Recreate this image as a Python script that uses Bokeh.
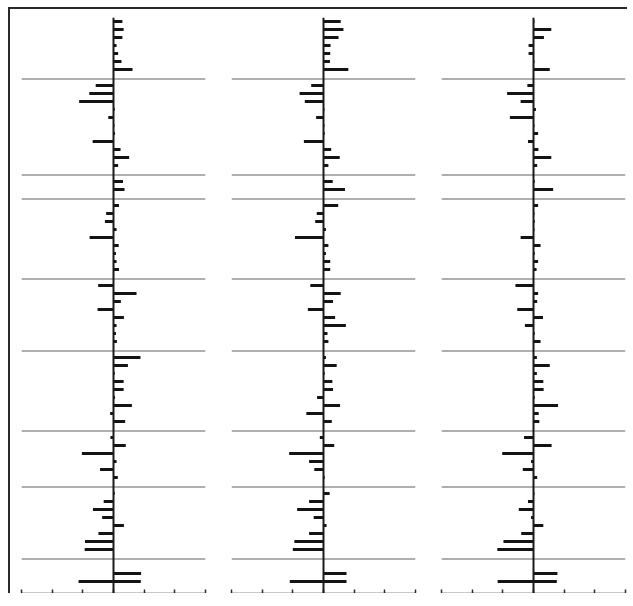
from bokeh.plotting import figure
from bokeh.layouts import row
from bokeh.models import Range1d, Span, LinearAxis, FixedTicker, ColumnDataSource
from bokeh.embed import file_html
from bokeh.resources import INLINE

# ---- data -------------------------------------------------------------
group_sizes = [7, 11, 2, 9, 8, 9, 6, 8, 2]
group_gaps = [2, 2, 2, 2, 2, 2, 2, 3]
x_ticks = [-3, -2, -1, 0, 1, 2, 3]

panel1_values = [
    0.29, 0.33, 0.29, 0.10, 0.15, 0.26, 0.62,
    -0.58, -0.79, -1.12, 0.04, -0.17, 0.03, 0.05, -0.68, 0.23, 0.51, 0.15,
    0.31, 0.36,
    0.18, -0.24, -0.28, 0.10, -0.78, 0.17, 0.08, 0.10, 0.18,
    -0.50, 0.75, 0.24, -0.52, 0.34, 0.10, 0.08, 0.11,
    0.88, 0.47, 0.04, 0.33, 0.33, 0.05, 0.60, -0.11, 0.38,
    -0.10, 0.40, -1.03, 0.10, -0.44, 0.14,
    0.04, -0.32, -0.67, -0.37, 0.34, -0.49, -0.93, -0.94,
    0.90, 0.89,
]
panel1_last_neg = -1.14

panel2_values = [
    0.56, 0.65, 0.49, 0.23, 0.22, 0.21, 0.81,
    -0.40, -0.78, -0.61, 0.03, -0.24, 0.03, 0.04, -0.64, 0.25, 0.53, 0.16,
    0.30, 0.70,
    0.48, -0.22, -0.27, 0.08, -0.93, 0.16, 0.08, 0.22, 0.22,
    -0.43, 0.56, 0.31, -0.51, 0.38, 0.73, 0.13, 0.16,
    0.08, 0.43, 0.04, 0.29, 0.31, -0.21, 0.54, -0.56, 0.27,
    -0.12, 0.35, -1.12, -0.47, -0.30, 0.04,
    0.20, -0.47, -0.86, -0.32, 0.10, -0.47, -0.95, -1.00,
    0.75, 0.75,
]
panel2_last_neg = -1.10

panel3_values = [
    0.03, 0.58, 0.34, -0.16, -0.16, 0.03, 0.53,
    -0.20, -0.86, -0.42, 0.08, -0.77, 0.03, 0.15, -0.18, 0.16, 0.58, 0.12,
    0.04, 0.64,
    0.15, 0.03, 0.04, 0.03, -0.42, 0.23, 0.04, 0.15, 0.10,
    -0.59, 0.15, 0.12, -0.53, 0.31, -0.28, 0.04, 0.23,
    0.11, 0.53, 0.11, 0.32, 0.33, 0.04, 0.80, 0.17, 0.19,
    -0.31, 0.59, -1.02, -0.08, -0.35, 0.12,
    0.03, -0.18, -0.48, -0.08, 0.32, -0.40, -0.98, -1.18,
    0.78, 0.76,
]
panel3_last_neg = -1.17

# ---- row layout -------------------------------------------------------
rows = []
separators = []
k = 0
for gi, n in enumerate(group_sizes):
    rows.extend(range(k, k + n))
    last = k + n - 1
    if gi < len(group_gaps):
        separators.append(last + 1.2)
        k = last + group_gaps[gi]

BAR = "#141414"


def make_panel(values, last_neg, left_pad, right_pad):
    p = figure(
        frame_width=184, frame_height=576,
        x_range=Range1d(-3, 3), y_range=Range1d(71.5, -0.5),
        x_axis_location=None, y_axis_location=None,
        output_backend="svg", toolbar_location=None,
        min_border_left=left_pad, min_border_right=right_pad,
        min_border_top=8, min_border_bottom=0,
        background_fill_color="white", border_fill_color="white",
        outline_line_color=None,
    )
    p.xgrid.grid_line_color = None
    p.ygrid.grid_line_color = None

    for s in separators:
        p.add_layout(Span(location=s, dimension="width",
                          line_color="#949494", line_width=1.5))
    p.add_layout(Span(location=0, dimension="height",
                      line_color="#1a1a1a", line_width=2))

    lefts = [min(0.0, v) for v in values] + [last_neg]
    rights = [max(0.0, v) for v in values] + [0.0]
    ys = rows + [rows[-1]]
    src = ColumnDataSource(dict(y=ys, left=lefts, right=rights))
    p.hbar(y="y", left="left", right="right", height=0.38, source=src,
           fill_color=BAR, line_color=None)

    ax = LinearAxis(
        ticker=FixedTicker(ticks=x_ticks),
        major_tick_in=4, major_tick_out=0,
        minor_tick_in=0, minor_tick_out=0,
        major_label_standoff=0,
        major_label_text_font_size="1px",
        major_label_overrides={t: "" for t in x_ticks},
        axis_line_color="#2b2b2b", axis_line_width=1.5,
        major_tick_line_color="#2b2b2b", major_tick_line_width=1.5,
    )
    p.add_layout(ax, "below")
    return p


p1 = make_panel(panel1_values, panel1_last_neg, 11, 13)
p2 = make_panel(panel2_values, panel2_last_neg, 13, 13)
p3 = make_panel(panel3_values, panel3_last_neg, 13, 2)

layout = row(p1, p2, p3, styles={
    "margin-left": "8px",
    "margin-top": "7px",
    "border-left": "2px solid #2a2a2a",
    "border-top": "2px solid #2a2a2a",
})

open("out.html", "w").write(file_html(layout, INLINE))
